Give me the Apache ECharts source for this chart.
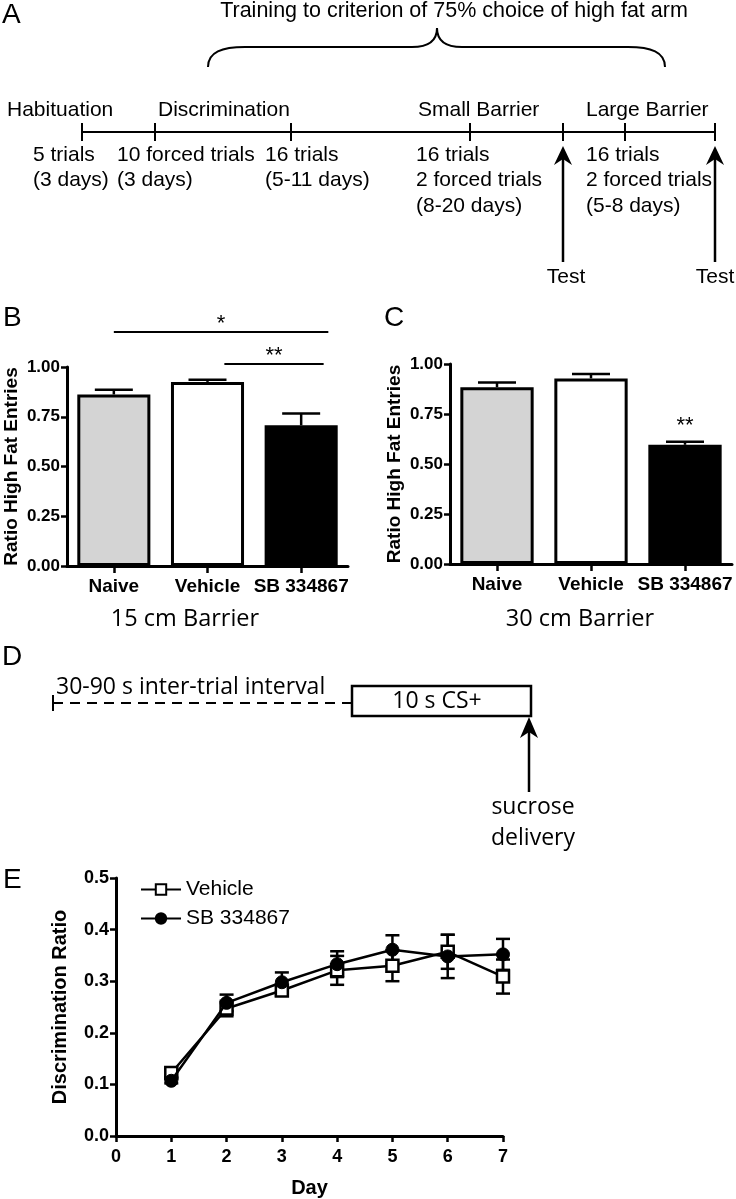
<!DOCTYPE html>
<html><head><meta charset="utf-8">
<script src="https://cdn.jsdelivr.net/npm/echarts@6/dist/echarts.min.js"></script>
<style>html,body{margin:0;padding:0;background:#fff}#chart{width:736px;height:1199px}</style>
</head><body><div id="chart"></div>
<script>
// ---------- data ----------
const groups = ['Naive', 'Vehicle', 'SB 334867'];
const barrier15Mean = [0.862, 0.925, 0.707];
const barrier15Sem = [0.024, 0.011, 0.059];
const barrier30Mean = [0.884, 0.928, 0.596];
const barrier30Sem = [0.023, 0.022, 0.015];
const barFills = ['#d4d4d4', '#ffffff', '#000000'];
const sigB = [ {from: 0.0, to: 2.29, y: 1.176, mark: '*'}, {from: 1.18, to: 2.24, y: 1.015, mark: '**'} ];
const sigC = [ {cat: 2, y: 0.712, mark: '**'} ];
const days = [1, 2, 3, 4, 5, 6, 7];
const vehicleRatio = [0.122, 0.247, 0.282, 0.321, 0.330, 0.357, 0.309];
const vehicleSem   = [0.008, 0.015, 0.010, 0.028, 0.030, 0.033, 0.033];
const sbRatio      = [0.107, 0.258, 0.298, 0.333, 0.361, 0.348, 0.352];
const sbSem        = [0.005, 0.016, 0.019, 0.025, 0.028, 0.042, 0.030];

// ---------- helpers ----------
const ARIAL = '"Liberation Sans", Arial, sans-serif';
const MYRIAD = '"Open Sans", "Noto Sans", sans-serif';
function txt(x, y, s, font, align) {
  return {type: 'text', x: x, y: y, silent: true,
    style: {text: s, font: font, fill: '#000', align: align || 'left', verticalAlign: 'middle',
            textAlign: align || 'left', textVerticalAlign: 'middle'}};
}
function ln(x1, y1, x2, y2, w, dash) {
  const st = {stroke: '#000', lineWidth: w || 2};
  if (dash) st.lineDash = dash;
  return {type: 'line', silent: true, shape: {x1, y1, x2, y2}, style: st};
}
function bez(x1, y1, cpx1, cpy1, cpx2, cpy2, x2, y2) {
  return {type: 'bezierCurve', silent: true, shape: {x1, y1, cpx1, cpy1, cpx2, cpy2, x2, y2},
          style: {stroke: '#000', lineWidth: 2, fill: 'none'}};
}
function arrowUp(x, tip, bottom, hw, len) {
  return [ln(x, bottom, x, tip + len - 4, 2.5),
    {type: 'polygon', silent: true, shape: {points: [[x, tip], [x + hw, tip + len + 3], [x, tip + len - 3], [x - hw, tip + len + 3]]},
     style: {fill: '#000'}}];
}

const fA = '21px ' + ARIAL;
const graphics = [];
// Panel A
graphics.push(txt(2, 15, 'A', '28px ' + ARIAL));
graphics.push(txt(454, 11, 'Training to criterion of 75% choice of high fat arm', '21.5px ' + ARIAL, 'center'));
graphics.push(bez(208, 67, 208, 52, 222, 47, 245, 47));
graphics.push(ln(245, 47, 412, 47, 2));
graphics.push(bez(412, 47, 430, 47, 437, 40, 437, 28));
graphics.push(bez(437, 28, 437, 40, 444, 47, 462, 47));
graphics.push(ln(462, 47, 628, 47, 2));
graphics.push(bez(628, 47, 651, 47, 665, 52, 665, 67));
graphics.push(ln(82, 132, 716, 132, 2));
[82, 155, 291, 470, 563, 625, 715].forEach(x => graphics.push(ln(x, 123, x, 141, 2)));
[['Habituation', 7], ['Discrimination', 158], ['Small Barrier', 418], ['Large Barrier', 586]]
  .forEach(a => graphics.push(txt(a[1], 110, a[0], fA)));
[['5 trials', 33, 155], ['10 forced trials', 117, 155], ['16 trials', 265, 155], ['16 trials', 416, 155], ['16 trials', 586, 155],
 ['(3 days)', 33, 180], ['(3 days)', 117, 180], ['(5-11 days)', 265, 180], ['2 forced trials', 416, 180], ['2 forced trials', 586, 180],
 ['(8-20 days)', 416, 206], ['(5-8 days)', 586, 206]]
  .forEach(a => graphics.push(txt(a[1], a[2], a[0], fA)));
graphics.push(...arrowUp(563, 146, 262, 9, 16));
graphics.push(...arrowUp(715, 146, 262, 9, 16));
graphics.push(txt(566, 277, 'Test', fA, 'center'));
graphics.push(txt(715, 277, 'Test', fA, 'center'));
// Panel B/C labels
graphics.push(txt(3, 318, 'B', '28px ' + ARIAL));
graphics.push(txt(384, 318, 'C', '28px ' + ARIAL));
graphics.push(txt(185, 619, '15 cm Barrier', '23.5px ' + MYRIAD, 'center'));
graphics.push(txt(580, 619, '30 cm Barrier', '23.5px ' + MYRIAD, 'center'));
// Panel D
const fD = '23px ' + MYRIAD;
graphics.push(txt(2, 657, 'D', '28px ' + ARIAL));
graphics.push(ln(53, 695, 53, 711, 2));
graphics.push(ln(53, 703, 352, 703, 2, [10, 7]));
graphics.push({type: 'rect', silent: true, shape: {x: 352, y: 686, width: 179, height: 30}, style: {fill: '#fff', stroke: '#000', lineWidth: 2.5}});
graphics.push(txt(56, 687, '30-90 s inter-trial interval', fD));
graphics.push(txt(437, 701, '10 s CS+', fD, 'center'));
graphics.push(...arrowUp(529, 717, 792, 9, 18));
graphics.push(txt(533, 807, 'sucrose', fD, 'center'));
graphics.push(txt(533, 838, 'delivery', fD, 'center'));
// Panel E label
graphics.push(txt(3, 880, 'E', '28px ' + ARIAL));

// ---------- chart ----------
const axisLabelBold = {color: '#000', fontWeight: 'bold', fontFamily: ARIAL};
function valueY(gridIndex, max, interval, digits, fs, name, nameGap, nameFs) {
  return {type: 'value', gridIndex, min: 0, max, interval,
    name, nameLocation: 'middle', nameRotate: 90, nameGap,
    nameTextStyle: {color: '#000', fontWeight: 'bold', fontFamily: ARIAL, fontSize: nameFs},
    axisLine: {show: true, lineStyle: {color: '#000', width: 3}},
    axisTick: {show: true, length: 6, lineStyle: {color: '#000', width: 2.5}},
    axisLabel: Object.assign({fontSize: fs, margin: 7, formatter: v => v.toFixed(digits)}, axisLabelBold),
    splitLine: {show: false}};
}
function catX(gridIndex) {
  return {type: 'category', gridIndex, data: groups,
    axisLine: {show: true, lineStyle: {color: '#000', width: 3}},
    axisTick: {show: true, alignWithLabel: true, length: 7, lineStyle: {color: '#000', width: 2.5}},
    axisLabel: Object.assign({fontSize: 19, margin: 11, interval: 0}, axisLabelBold)};
}
function barSeries(idx, means) {
  return {type: 'bar', xAxisIndex: idx, yAxisIndex: idx, barCategoryGap: '22%', z: 2,
    data: means.map((v, i) => ({value: v, itemStyle: {color: barFills[i]}})),
    itemStyle: {borderColor: '#000', borderWidth: 3}, silent: true};
}
function barErrSeries(idx, means, sems) {
  return {type: 'custom', xAxisIndex: idx, yAxisIndex: idx, z: 3, silent: true,
    data: means.map((v, i) => [i, v, sems[i]]),
    renderItem: function (params, api) {
      const x = api.value(0), m = api.value(1), e = api.value(2);
      const b = api.coord([x, m]), t = api.coord([x, m + e]);
      const hw = 19;
      return {type: 'group', children: [
        {type: 'line', shape: {x1: b[0], y1: b[1], x2: t[0], y2: t[1]}, style: {stroke: '#000', lineWidth: 2.5}},
        {type: 'line', shape: {x1: t[0] - hw, y1: t[1], x2: t[0] + hw, y2: t[1]}, style: {stroke: '#000', lineWidth: 2.5}}]};
    }};
}
const sigB_series = {type: 'custom', xAxisIndex: 0, yAxisIndex: 0, z: 4, silent: true, clip: false,
  data: sigB.map((s, i) => [i, s.y]),
  renderItem: function (params, api) {
    const s = sigB[params.dataIndex];
    const c0 = api.coord([0, s.y]);
    const band = api.size([1, 0])[0];
    const x1 = c0[0] + s.from * band, x2 = c0[0] + s.to * band;
    return {type: 'group', children: [
      {type: 'line', shape: {x1, y1: c0[1], x2, y2: c0[1]}, style: {stroke: '#000', lineWidth: 2}},
      {type: 'text', x: (x1 + x2) / 2, y: c0[1] - 8, style: {text: s.mark, font: '22px ' + ARIAL, fill: '#000', align: 'center', verticalAlign: 'middle'}}]};
  }};
const sigC_series = {type: 'custom', xAxisIndex: 1, yAxisIndex: 1, z: 4, silent: true, clip: false,
  data: sigC.map(s => [s.cat, s.y]),
  renderItem: function (params, api) {
    const s = sigC[params.dataIndex];
    const p = api.coord([s.cat, s.y]);
    return {type: 'text', x: p[0], y: p[1] + 4, style: {text: s.mark, font: '22px ' + ARIAL, fill: '#000', align: 'center', verticalAlign: 'middle'}};
  }};
function lineErrSeries(means, sems) {
  return {type: 'custom', xAxisIndex: 2, yAxisIndex: 2, z: 3, silent: true,
    data: days.map((d, i) => [d, means[i], sems[i]]),
    renderItem: function (params, api) {
      const x = api.value(0), m = api.value(1), e = api.value(2);
      const t = api.coord([x, m + e]), b = api.coord([x, m - e]);
      const hw = 7;
      return {type: 'group', children: [
        {type: 'line', shape: {x1: t[0], y1: t[1], x2: b[0], y2: b[1]}, style: {stroke: '#000', lineWidth: 2.5}},
        {type: 'line', shape: {x1: t[0] - hw, y1: t[1], x2: t[0] + hw, y2: t[1]}, style: {stroke: '#000', lineWidth: 2.5}},
        {type: 'line', shape: {x1: b[0] - hw, y1: b[1], x2: b[0] + hw, y2: b[1]}, style: {stroke: '#000', lineWidth: 2.5}}]};
    }};
}

const option = {
  backgroundColor: '#fff',
  animation: false,
  grid: [
    {left: 67, top: 367, width: 281, height: 199},
    {left: 450, top: 364, width: 282, height: 200},
    {left: 116, top: 878, width: 387, height: 259}
  ],
  xAxis: [catX(0), catX(1),
    {type: 'value', gridIndex: 2, min: 0, max: 7, interval: 1,
     name: 'Day', nameLocation: 'middle', nameGap: 42,
     nameTextStyle: {color: '#000', fontWeight: 'bold', fontFamily: ARIAL, fontSize: 20},
     axisLine: {show: true, lineStyle: {color: '#000', width: 3}},
     axisTick: {show: true, length: 6, lineStyle: {color: '#000', width: 2.5}},
     axisLabel: Object.assign({fontSize: 18, margin: 12}, axisLabelBold),
     splitLine: {show: false}}],
  yAxis: [valueY(0, 1, 0.25, 2, 17, 'Ratio High Fat Entries', 46, 19),
          valueY(1, 1, 0.25, 2, 17, 'Ratio High Fat Entries', 46, 19),
          valueY(2, 0.5, 0.1, 1, 18, 'Discrimination Ratio', 46, 20)],
  legend: {left: 135, top: 874, orient: 'vertical', itemWidth: 40, itemHeight: 13, itemGap: 8,
    textStyle: {fontSize: 21, fontFamily: ARIAL, color: '#000'},
    data: ['Vehicle', 'SB 334867']},
  series: [
    barSeries(0, barrier15Mean), barErrSeries(0, barrier15Mean, barrier15Sem), sigB_series,
    barSeries(1, barrier30Mean), barErrSeries(1, barrier30Mean, barrier30Sem), sigC_series,
    lineErrSeries(vehicleRatio, vehicleSem), lineErrSeries(sbRatio, sbSem),
    {name: 'Vehicle', type: 'line', xAxisIndex: 2, yAxisIndex: 2, z: 5,
     data: days.map((d, i) => [d, vehicleRatio[i]]),
     symbol: 'rect', symbolSize: 12, showAllSymbol: true,
     lineStyle: {color: '#000', width: 2.5},
     itemStyle: {color: '#fff', borderColor: '#000', borderWidth: 2.5}},
    {name: 'SB 334867', type: 'line', xAxisIndex: 2, yAxisIndex: 2, z: 6,
     data: days.map((d, i) => [d, sbRatio[i]]),
     symbol: 'circle', symbolSize: 13, showAllSymbol: true,
     lineStyle: {color: '#000', width: 2.5},
     itemStyle: {color: '#000', borderColor: '#000', borderWidth: 1}}
  ],
  graphic: graphics
};
const chart = echarts.init(document.getElementById('chart'), null, {renderer: 'canvas'});
chart.setOption(option);
</script>
</body></html>
